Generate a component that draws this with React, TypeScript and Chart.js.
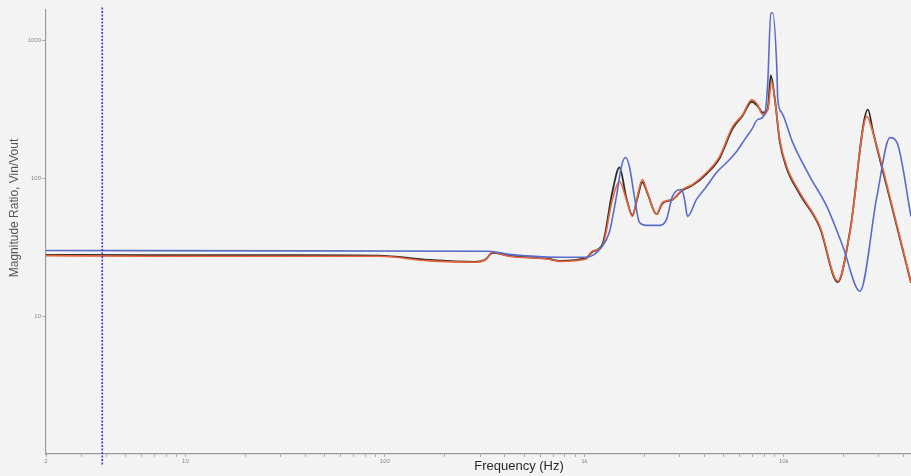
import React, { useEffect, useRef } from "react";
import { Chart, registerables } from "chart.js";

Chart.register(...registerables);

// ---- data (Hz, Vin/Vout) ----
const blueFreq = [2.0, 37, 333, 420, 748, 1023, 1231, 1335, 1449, 1535, 1607, 1683, 1782, 1889, 2049, 2384, 2583, 2767, 3070, 3181, 3294, 3654, 4101, 4603, 5171, 5804, 6366, 6903, 7396, 8017, 8313, 8610, 8810, 9226, 9333, 9772, 11090, 13510, 16440, 19770, 24090, 29310, 34110, 36970, 43450];
const blueMag = [30.0, 29.8, 29.6, 28.1, 26.8, 26.8, 32.2, 40.6, 74.0, 122, 141.6, 122, 74.0, 48.0, 45.6, 45.6, 50.4, 74.0, 83.1, 70.4, 53.0, 70.4, 87.4, 110.3, 130.3, 156.6, 191.2, 225.9, 266.9, 290, 494.3, 1586, 1586, 645.1, 372.4, 299.9, 181.9, 103.2, 62.6, 32.2, 15.19, 74.0, 197.7, 181.9, 53.0];

const redFreq = [2.0, 6.52, 37, 93.3, 166, 280, 322, 345, 420, 667, 748, 1023, 1096, 1231, 1383, 1500, 1626, 1742, 1846, 1954, 2073, 2301, 2467, 2767, 3105, 3489, 4101, 4766, 5541, 6219, 6903, 7396, 7834, 8313, 8710, 9016, 9550, 10351, 12025, 15170, 18660, 21460, 26120, 27990, 35300, 43450];
const redMag = [27.5, 27.2, 27.2, 27.2, 25.2, 24.6, 25.9, 29.1, 27.2, 25.9, 25.0, 26.0, 29.6, 32.2, 70.4, 95.0, 70.4, 53.0, 74.0, 98.2, 79.1, 54.8, 66.9, 70.4, 83.1, 90.3, 110.3, 144.0, 237.5, 290, 372.4, 342.5, 290, 315.2, 502.6, 372.4, 191.2, 122, 79.1, 44.9, 17.95, 40.6, 280.5, 214.9, 59.6, 17.65];

const blackFreq = [2.0, 6.52, 37, 93.3, 166, 280, 322, 345, 420, 667, 748, 1023, 1096, 1231, 1383, 1500, 1626, 1742, 1846, 1954, 2073, 2301, 2467, 2767, 3105, 3489, 4101, 4766, 5541, 6219, 6903, 7396, 7834, 8313, 8610, 9016, 9550, 10351, 12025, 15170, 18660, 21460, 26430, 27990, 35300, 43450];
const blackMag = [27.9, 27.7, 27.7, 27.5, 25.6, 24.8, 26.0, 28.8, 27.5, 26.0, 25.2, 26.5, 29.3, 33.0, 80.0, 120.0, 72.0, 54.0, 72.0, 94.0, 78.0, 55.0, 66.0, 70.0, 82.0, 89.0, 108.0, 140.0, 230.0, 285.0, 360.0, 335.0, 300.0, 320.0, 560.0, 380.0, 185.0, 118.0, 77.0, 44.0, 17.65, 41.0, 315.0, 220.0, 58.0, 17.5];

const markerFreq = [3.83, 3.83];
const markerMag = [0.84, 1750];

const xTickValues = [2, 3, 4, 5, 6, 7, 8, 9, 10, 20, 30, 40, 50, 60, 70, 80, 90, 100, 200, 300, 400, 500, 600, 700, 800, 900, 1000, 2000, 3000, 4000, 5000, 6000, 7000, 8000, 9000, 10000, 20000, 30000, 40000];
const xTickLabels: Record<number, string> = { 2: "2", 10: "10", 100: "100", 1000: "1k", 10000: "10k" };
const yTickValues = [10, 100, 1000];
const yTickLabels: Record<number, string> = { 10: "10", 100: "100", 1000: "1000" };

const X_MIN = 2;
const X_MAX = 43450;
const Y_MIN = 1;
const Y_MAX = 1667;

const xTitle = "Frequency (Hz)";
const yTitle = "Magnitude Ratio, Vin/Vout";

const pts = (xs: number[], ys: number[]) => xs.map((x, i) => ({ x, y: ys[i] }));

const BG = "#f3f3f3";

const decorPlugin = {
  id: "decor",
  beforeDraw(chart: any) {
    const { ctx, width, height } = chart;
    ctx.save();
    ctx.fillStyle = BG;
    ctx.fillRect(0, 0, width, height);
    ctx.restore();
  },
  afterDraw(chart: any) {
    const { ctx, chartArea } = chart;
    ctx.save();
    ctx.fillStyle = "#2a2a2a";
    ctx.font = "13px 'Liberation Sans', Arial, sans-serif";
    ctx.textAlign = "center";
    ctx.textBaseline = "middle";
    ctx.fillText(xTitle, chartArea.left + 473, chartArea.bottom + 12);
    ctx.translate(15, chartArea.top + 198);
    ctx.rotate(-Math.PI / 2);
    ctx.fillStyle = "#555";
    ctx.font = "12px 'Liberation Sans', Arial, sans-serif";
    ctx.fillText(yTitle, 0, 0);
    ctx.restore();
  },
};

export default function App() {
  const ref = useRef<HTMLCanvasElement | null>(null);
  useEffect(() => {
    document.body.style.margin = "0";
    document.body.style.background = BG;
    document.body.style.overflow = "hidden";
    const canvas = ref.current!;
    const chart = new Chart(canvas, {
      type: "line",
      data: {
        datasets: [
          {
            label: "marker",
            data: pts(markerFreq, markerMag),
            borderColor: "#3c3cc4",
            borderWidth: 1.6,
            borderDash: [2, 1.5],
            pointRadius: 0,
            clip: false as any,
            order: 0,
          },
          {
            label: "black",
            data: pts(blackFreq, blackMag),
            borderColor: "#2e2e2a",
            borderWidth: 1.8,
            pointRadius: 0,
            cubicInterpolationMode: "monotone",
            order: 3,
          },
          {
            label: "red",
            data: pts(redFreq, redMag),
            borderColor: "#e8643c",
            borderWidth: 1.6,
            pointRadius: 0,
            cubicInterpolationMode: "monotone",
            order: 2,
          },
          {
            label: "blue",
            data: pts(blueFreq, blueMag),
            borderColor: "#5a6cc8",
            borderWidth: 1.6,
            pointRadius: 0,
            cubicInterpolationMode: "monotone",
            order: 1,
          },
        ],
      },
      options: {
        animation: false,
        responsive: false,
        devicePixelRatio: 1,
        layout: { padding: { top: 10, right: 0, left: 0, bottom: 0 } },
        plugins: { legend: { display: false }, tooltip: { enabled: false } },
        scales: {
          x: {
            type: "logarithmic",
            min: X_MIN,
            max: X_MAX,
            afterBuildTicks: (scale: any) => {
              scale.ticks = xTickValues.map((v) => ({ value: v }));
            },
            afterFit: (scale: any) => {
              scale.height = 22;
            },
            ticks: {
              autoSkip: false,
              maxRotation: 0,
              padding: 1,
              color: "#888",
              font: { size: 6, family: "'Liberation Sans', Arial, sans-serif" },
              callback: (v: any) => xTickLabels[Number(v)] ?? "",
            },
            grid: {
              color: "rgba(255,255,255,0.35)",
              tickColor: "#aaa",
              tickLength: 3,
              drawOnChartArea: true,
            },
            border: { color: "#9a9a9a", width: 1.2 },
          },
          y: {
            type: "logarithmic",
            min: Y_MIN,
            max: Y_MAX,
            afterBuildTicks: (scale: any) => {
              scale.ticks = yTickValues.map((v) => ({ value: v }));
            },
            afterFit: (scale: any) => {
              scale.width = 46;
            },
            ticks: {
              autoSkip: false,
              padding: 1,
              color: "#888",
              font: { size: 6, family: "'Liberation Sans', Arial, sans-serif" },
              callback: (v: any) => yTickLabels[Number(v)] ?? "",
            },
            grid: {
              drawOnChartArea: false,
              tickColor: "#aaa",
              tickLength: 4,
            },
            border: { color: "#9a9a9a", width: 1.2 },
          },
        },
      },
      plugins: [decorPlugin],
    } as any);
    return () => chart.destroy();
  }, []);
  return <canvas ref={ref} width={911} height={476} style={{ display: "block" }} />;
}
